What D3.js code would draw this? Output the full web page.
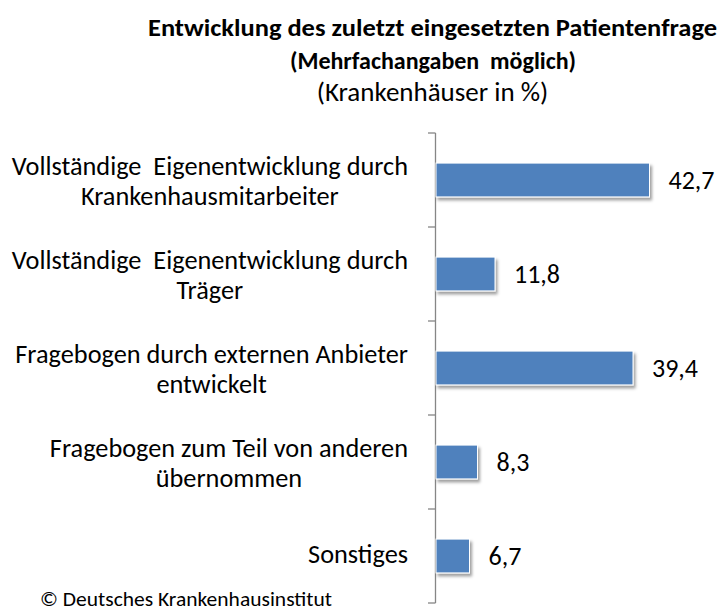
<!DOCTYPE html>
<html><head><meta charset="utf-8">
<script src="https://cdn.jsdelivr.net/npm/d3@7"></script>
<style>body{margin:0;background:#fff}svg{display:block}text{font-family:Carlito,Calibri,'Liberation Sans',sans-serif;fill:#000}</style>
</head><body>
<svg id="chart" width="718" height="612"></svg>
<script>
// ---- data ----
const categories = [
  ["Vollständige  Eigenentwicklung durch", "Krankenhausmitarbeiter"],
  ["Vollständige  Eigenentwicklung durch", "Träger"],
  ["Fragebogen durch externen Anbieter", "entwickelt"],
  ["Fragebogen zum Teil von anderen", "übernommen"],
  ["Sonstiges"]
];
const values = [42.7, 11.8, 39.4, 8.3, 6.7];
const valueLabels = ["42,7", "11,8", "39,4", "8,3", "6,7"];
const titleLines = ["Entwicklung des zuletzt eingesetzten Patientenfrage", "(Mehrfachangaben  möglich)"];
const subtitle = "(Krankenhäuser in %)";
const source = "© Deutsches Krankenhausinstitut";

const svg = d3.select("#chart");
const ids = categories.map((c, i) => i);

const defs = svg.append("defs");
const f = defs.append("filter").attr("id", "shadow").attr("x", "-10%").attr("y", "-30%").attr("width", "130%").attr("height", "180%");
f.append("feDropShadow").attr("dx", 2).attr("dy", 3).attr("stdDeviation", 1.8).attr("flood-color", "#000").attr("flood-opacity", 0.38);

const x = d3.scaleLinear().domain([0, 50]).range([436, 686]);
const y = d3.scaleBand().domain(ids).range([133, 603]).paddingInner(0.64).paddingOuter(0.32);
const step = y.step();

// title
svg.append("text").attr("x", 148).attr("y", 36)
  .attr("textLength", 569).attr("lengthAdjust", "spacingAndGlyphs")
  .style("font-weight", "bold").style("font-size", "25px").text(titleLines[0]);
svg.append("text").attr("x", 433).attr("y", 69).attr("text-anchor", "middle")
  .style("font-weight", "bold").style("font-size", "24px").style("white-space", "pre").text(titleLines[1]);
svg.append("text").attr("x", 432.5).attr("y", 101).attr("text-anchor", "middle")
  .style("font-size", "27px").text(subtitle);

// axis (vertical category axis with boundary ticks)
const axisG = svg.append("g");
axisG.append("line").attr("x1", 435.5).attr("x2", 435.5).attr("y1", y.range()[0]).attr("y2", y.range()[1])
  .attr("stroke", "#868686").attr("stroke-width", 1.3);
const tickYs = d3.range(ids.length + 1).map(i => y.range()[0] + i * step);
axisG.selectAll("line.tick").data(tickYs).join("line").attr("class", "tick")
  .attr("x1", 428).attr("x2", 435.5).attr("y1", d => d).attr("y2", d => d)
  .attr("stroke", "#868686").attr("stroke-width", 1.3);

// bars
svg.append("g").selectAll("rect").data(values).join("rect")
  .attr("x", x(0)).attr("y", (d, i) => y(i))
  .attr("width", d => x(d) - x(0)).attr("height", y.bandwidth())
  .attr("fill", "#4F81BD").attr("stroke", "#ffffff").attr("stroke-width", 1)
  .attr("filter", "url(#shadow)");

// value labels
svg.append("g").selectAll("text").data(values).join("text")
  .attr("x", d => x(d) + 19).attr("y", (d, i) => y(i) + y.bandwidth() / 2 + 8.5)
  .style("font-size", "26px").text((d, i) => valueLabels[i]);

// category labels
const labelG = svg.append("g");
categories.forEach((lines, i) => {
  const c = y(i) + y.bandwidth() / 2;
  const g = labelG.append("g");
  const ts = lines.map(l => g.append("text").style("font-size", "26.3px").style("white-space", "pre").text(l));
  const w = d3.max(ts, t => t.node().getComputedTextLength());
  const cx = 408 - w / 2;
  const lh = 30;
  const y0 = lines.length === 1 ? c + 7 : c - 5.5;
  ts.forEach((t, j) => t.attr("x", cx).attr("y", y0 + j * lh).attr("text-anchor", "middle"));
});

// source
svg.append("text").attr("x", 40).attr("y", 606).attr("textLength", 292).attr("lengthAdjust", "spacingAndGlyphs")
  .style("font-size", "20.5px").text(source);
</script>
</body></html>
